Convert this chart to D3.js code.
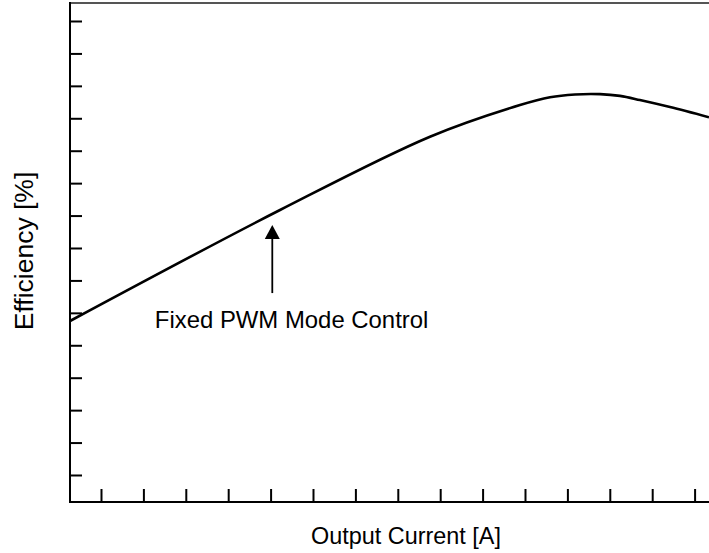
<!DOCTYPE html>
<html>
<head>
<meta charset="utf-8">
<script src="https://cdn.jsdelivr.net/npm/d3@7"></script>
<style>
  html, body { margin: 0; padding: 0; background: #fff; }
  svg { display: block; }
  text { font-family: "Liberation Sans", Arial, sans-serif; fill: #000; }
</style>
</head>
<body>
<svg id="chart" width="709" height="553"></svg>
<script>
// ---- data (arbitrary units; axis has no numeric labels) ----
const currentValues    = [-0.731, 4.222, 7.759, 9.882, 10.590, 11.180, 11.770, 12.240, 12.710, 13.420, 14.340];
const efficiencyValues = [4.749, 8.171, 10.432, 11.409, 11.650, 11.735, 11.745, 11.690, 11.563, 11.345, 11.030];
const xTickValues = [0,1,2,3,4,5,6,7,8,9,10,11,12,13,14];
const yTickValues = [0,1,2,3,4,5,6,7,8,9,10,11,12,13,14];
const annotationText = "Fixed PWM Mode Control";
const arrowX = 4.04, arrowTipY = 7.71, arrowTailY = 5.61;
const labelX = 1.27, labelY = 4.53;
const xAxisTitle = "Output Current [A]";
const yAxisTitle = "Efficiency [%]";

// ---- layout ----
const svg = d3.select("#chart");
const L = 70, R = 742, T = 3, B = 502;

const x = d3.scaleLinear().domain([-0.731, 15.118]).range([L, R]);
const y = d3.scaleLinear().domain([-0.833, 14.555]).range([B, T]);

// ticks (inward, no labels)
const yAxis = svg.append("g").attr("transform", `translate(${L},0)`)
  .call(d3.axisLeft(y).tickValues(yTickValues).tickSize(-12).tickFormat(""));
yAxis.select(".domain").remove();
yAxis.selectAll(".tick line").attr("stroke", "#000").attr("stroke-width", 2);

const xAxis = svg.append("g").attr("transform", `translate(0,${B})`)
  .call(d3.axisBottom(x).tickValues(xTickValues).tickSize(-13).tickFormat(""));
xAxis.select(".domain").remove();
xAxis.selectAll(".tick line").attr("stroke", "#000").attr("stroke-width", 2);

// frame
svg.append("line").attr("x1", L).attr("x2", R).attr("y1", T).attr("y2", T)
  .attr("stroke", "#555").attr("stroke-width", 2);
svg.append("line").attr("x1", L).attr("x2", L).attr("y1", T - 1).attr("y2", B + 1)
  .attr("stroke", "#000").attr("stroke-width", 2);
svg.append("line").attr("x1", L - 1).attr("x2", R).attr("y1", B).attr("y2", B)
  .attr("stroke", "#000").attr("stroke-width", 2);

// curve
const pts = currentValues.map((c, i) => [c, efficiencyValues[i]]);
svg.append("path")
  .datum(pts)
  .attr("fill", "none")
  .attr("stroke", "#000")
  .attr("stroke-width", 2.6)
  .attr("d", d3.line().x(d => x(d[0])).y(d => y(d[1])).curve(d3.curveCatmullRom.alpha(0.5)));

// arrow annotation
const ax = x(arrowX), tipY = y(arrowTipY), tailY = y(arrowTailY);
svg.append("line").attr("x1", ax).attr("x2", ax).attr("y1", tailY).attr("y2", tipY + 10)
  .attr("stroke", "#000").attr("stroke-width", 1.8);
svg.append("path")
  .attr("d", `M${ax},${tipY} L${ax - 7.5},${tipY + 14} L${ax + 7.5},${tipY + 14} Z`)
  .attr("fill", "#000");

svg.append("text")
  .attr("x", x(labelX)).attr("y", y(labelY))
  .attr("font-size", 23.9)
  .text(annotationText);

// axis titles
svg.append("text")
  .attr("x", 406).attr("y", 544)
  .attr("text-anchor", "middle")
  .attr("font-size", 23.4)
  .text(xAxisTitle);

svg.append("text")
  .attr("transform", "translate(33,251) rotate(-90)")
  .attr("text-anchor", "middle")
  .attr("font-size", 26.5)
  .text(yAxisTitle);
</script>
</body>
</html>
